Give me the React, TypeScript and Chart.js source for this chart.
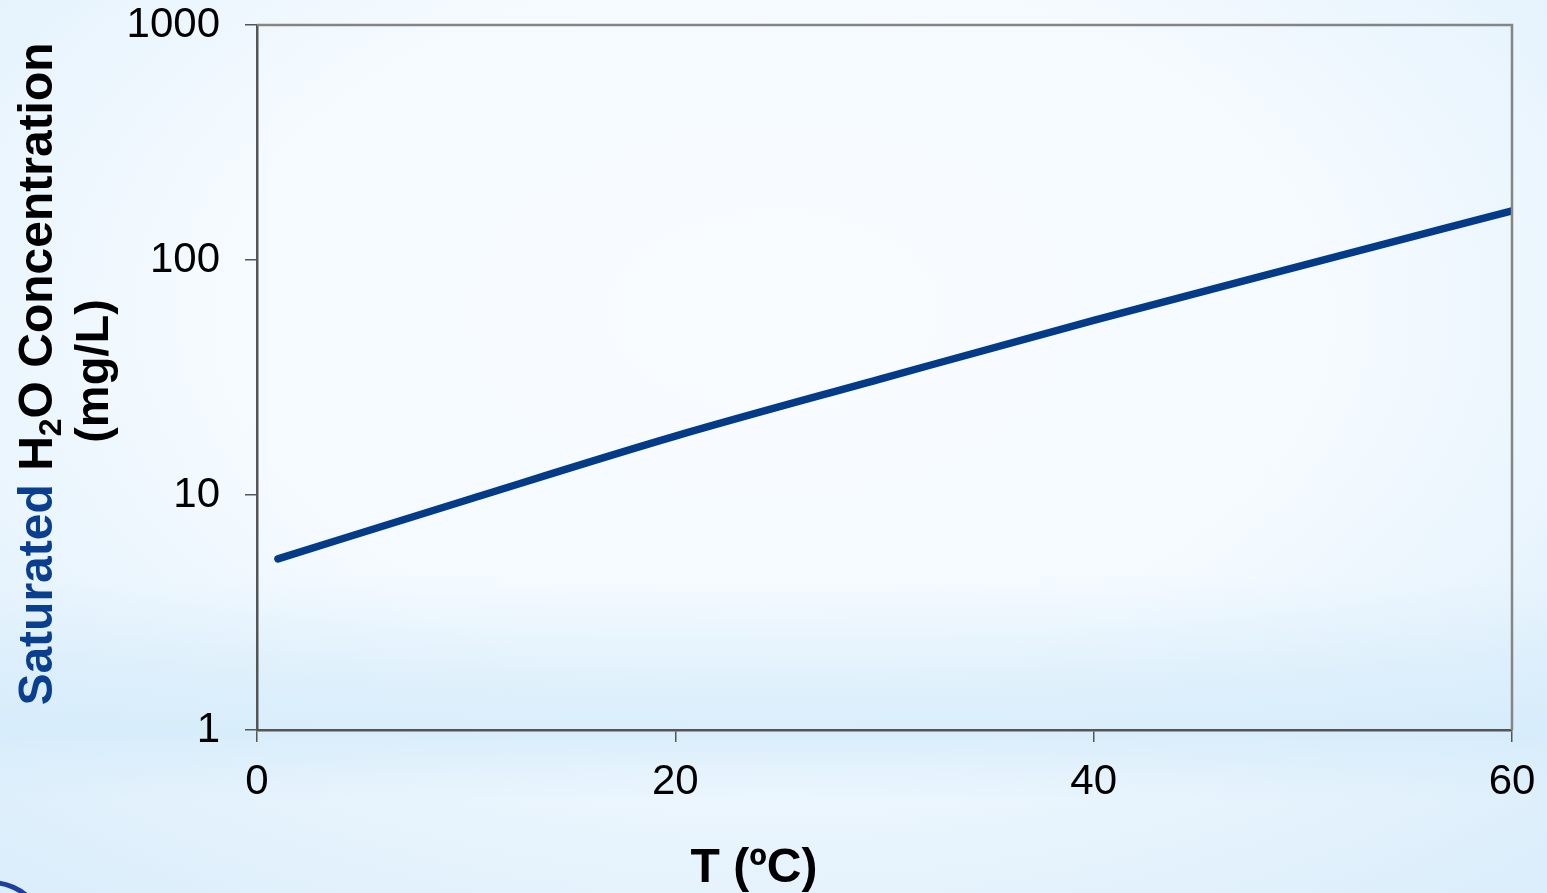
import React, { useEffect, useRef } from "react";
import { Chart, registerables } from "chart.js";

Chart.register(...registerables);

const temperatures = [1, 10, 20, 30, 40, 50, 60];
const concentrations = [5.35, 9.5, 17.8, 31.5, 55.4, 94.9, 162];
const yTickValues = [1, 10, 100, 1000];
const xTickValues = [0, 20, 40, 60];

const FONT = "'Liberation Sans', Arial, Helvetica, sans-serif";
const LINE_BLUE = "#033b88";

const titlePlugin = {
  id: "customTitles",
  afterDraw(chart: any) {
    const ctx = chart.ctx as CanvasRenderingContext2D;
    const area = chart.chartArea;
    ctx.save();
    // frame top & right
    ctx.strokeStyle = "#858585";
    ctx.lineWidth = 2.5;
    ctx.beginPath();
    ctx.moveTo(area.left, area.top);
    ctx.lineTo(area.right, area.top);
    ctx.lineTo(area.right, area.bottom);
    ctx.stroke();

    // x title
    ctx.fillStyle = "#000";
    ctx.font = `bold 48px ${FONT}`;
    ctx.textAlign = "center";
    ctx.textBaseline = "alphabetic";
    ctx.fillText("T (ºC)", 754, 882);

    // y title line 1 (rotated)
    ctx.save();
    ctx.translate(52, 374);
    ctx.rotate(-Math.PI / 2);
    const big = `bold 48px ${FONT}`;
    const small = `bold 32px ${FONT}`;
    const parts: { t: string; f: string; c: string; dy: number }[] = [
      { t: "Saturated ", f: big, c: "#0a3f8f", dy: 0 },
      { t: "H", f: big, c: "#000", dy: 0 },
      { t: "2", f: small, c: "#000", dy: 9 },
      { t: "O Concentration", f: big, c: "#000", dy: 0 },
    ];
    let total = 0;
    for (const p of parts) {
      ctx.font = p.f;
      total += ctx.measureText(p.t).width;
    }
    let x = -total / 2;
    ctx.textAlign = "left";
    for (const p of parts) {
      ctx.font = p.f;
      ctx.fillStyle = p.c;
      ctx.fillText(p.t, x, p.dy);
      x += ctx.measureText(p.t).width;
    }
    ctx.restore();

    // y title line 2
    ctx.save();
    ctx.translate(108, 371);
    ctx.rotate(-Math.PI / 2);
    ctx.font = `bold 47px ${FONT}`;
    ctx.fillStyle = "#000";
    ctx.textAlign = "center";
    ctx.fillText("(mg/L)", 0, 0);
    ctx.restore();

    ctx.restore();
  },
};

export default function App() {
  const canvasRef = useRef<HTMLCanvasElement | null>(null);

  useEffect(() => {
    if (!canvasRef.current) return;
    const chart = new Chart(canvasRef.current, {
      type: "line",
      data: {
        datasets: [
          {
            data: temperatures.map((t, i) => ({ x: t, y: concentrations[i] })),
            borderColor: LINE_BLUE,
            borderWidth: 7.5,
            borderCapStyle: "round",
            borderJoinStyle: "round",
            pointRadius: 0,
            cubicInterpolationMode: "monotone",
            fill: false,
          },
        ],
      },
      plugins: [titlePlugin],
      options: {
        animation: false,
        responsive: false,
        maintainAspectRatio: false,
        layout: { padding: { top: 25, right: 35, left: 0, bottom: 0 } },
        plugins: {
          legend: { display: false },
          tooltip: { enabled: false },
          title: { display: false },
        },
        scales: {
          x: {
            type: "linear",
            min: 0,
            max: 60,
            afterFit(scale: any) {
              scale.height = 163;
              scale.paddingLeft = 0;
              scale.paddingRight = 0;
            },
            afterBuildTicks(scale: any) {
              scale.ticks = xTickValues.map((v) => ({ value: v }));
            },
            grid: {
              drawOnChartArea: false,
              drawTicks: true,
              tickLength: 12,
              color: "#555",
              lineWidth: 1.5,
            },
            border: { display: true, color: "#555", width: 2.5 },
            ticks: {
              color: "#000",
              font: { family: FONT, size: 42 },
              padding: 15,
              maxRotation: 0,
              autoSkip: false,
            },
          },
          y: {
            type: "logarithmic",
            min: 1,
            max: 1000,
            afterFit(scale: any) {
              scale.width = 257;
              scale.paddingTop = 0;
              scale.paddingBottom = 0;
            },
            afterBuildTicks(scale: any) {
              scale.ticks = yTickValues.map((v) => ({ value: v }));
            },
            grid: {
              drawOnChartArea: false,
              drawTicks: true,
              tickLength: 12,
              color: "#555",
              lineWidth: 1.5,
            },
            border: { display: true, color: "#555", width: 2.5 },
            ticks: {
              color: "#000",
              font: { family: FONT, size: 42 },
              padding: 25,
              autoSkip: false,
              callback: (v: any) => String(v),
            },
          },
        },
      },
    } as any);
    return () => chart.destroy();
  }, []);

  return (
    <div
      style={{
        position: "fixed",
        left: 0,
        top: 0,
        width: 1547,
        height: 893,
        overflow: "hidden",
        background:
          "radial-gradient(ellipse 75% 80% at 50% 35%, rgba(249,252,255,1) 0%, rgba(244,250,255,1) 50%, rgba(220,238,251,1) 100%)",
      }}
    >
      <div
        style={{
          position: "absolute",
          left: 0,
          top: 580,
          width: 1547,
          height: 220,
          background:
            "linear-gradient(to bottom, rgba(212,235,250,0) 0%, rgba(212,235,250,0.6) 45%, rgba(212,235,250,0.8) 70%, rgba(212,235,250,0) 100%)",
        }}
      />
      <div
        style={{
          position: "absolute",
          left: -70,
          top: 880,
          width: 120,
          height: 120,
          borderRadius: "50%",
          border: "5px solid #1d3f9e",
          boxSizing: "border-box",
        }}
      />
      <canvas
        ref={canvasRef}
        width={1547}
        height={893}
        style={{ position: "absolute", left: 0, top: 0, width: 1547, height: 893 }}
      />
    </div>
  );
}
